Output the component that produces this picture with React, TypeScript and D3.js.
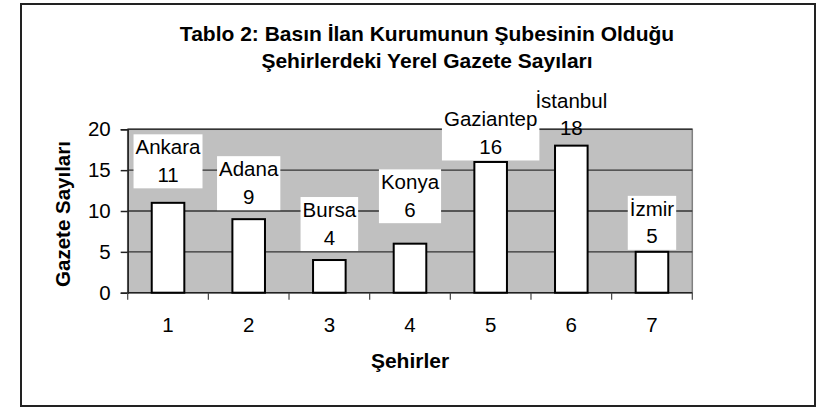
import React, { useEffect, useRef } from 'react'
import * as d3 from 'd3'

// chart data
const cityNumbers = ['1', '2', '3', '4', '5', '6', '7']
const cityNames = ['Ankara', 'Adana', 'Bursa', 'Konya', 'Gaziantep', 'İstanbul', 'İzmir']
const paperCounts = [11, 9, 4, 6, 16, 18, 5]
const yTicks = [0, 5, 10, 15, 20]
const titleLines = [
  'Tablo 2: Basın İlan Kurumunun Şubesinin Olduğu',
  'Şehirlerdeki Yerel Gazete Sayıları',
]
const xTitle = 'Şehirler'
const yTitle = 'Gazete Sayıları'

// hand placed label boxes (px gap above the bar top), as in the original sheet
const labelLift = [14.5, 9, 9, 20.5, 1.5, 4, 2]
const labelFilled = [true, true, true, true, true, false, true]

const W = 818
const H = 408
const FONT = '"Liberation Sans", Arial, sans-serif'

const plot = { left: 127.7, right: 692.3, top: 129.3, bottom: 292.7 }

const App = () => {
  const ref = useRef<SVGSVGElement>(null)

  useEffect(() => {
    const svg = d3.select(ref.current)
    svg.selectAll('*').remove()

    // outer frame
    svg.append('rect')
      .attr('x', 21).attr('y', 4)
      .attr('width', 794).attr('height', 402)
      .attr('fill', '#fff')
      .attr('stroke', '#222')
      .attr('stroke-width', 2)

    const x = d3.scaleBand()
      .domain(cityNumbers)
      .range([plot.left, plot.right])
      .padding(0)

    const y = d3.scaleLinear()
      .domain([0, 20])
      .range([plot.bottom, plot.top])

    // plot area
    svg.append('rect')
      .attr('x', plot.left).attr('y', plot.top)
      .attr('width', plot.right - plot.left)
      .attr('height', plot.bottom - plot.top)
      .attr('fill', '#c0c0c0')
      .attr('stroke', '#808080')
      .attr('stroke-width', 1.5)

    // gridlines
    svg.append('g')
      .selectAll('line')
      .data(yTicks.filter(t => t > 0))
      .enter().append('line')
      .attr('x1', plot.left).attr('x2', plot.right)
      .attr('y1', d => y(d)).attr('y2', d => y(d))
      .attr('stroke', '#333')
      .attr('stroke-width', 1.4)

    // y axis
    const yAxis = svg.append('g')
      .attr('transform', `translate(${plot.left},0)`)
      .call(d3.axisLeft(y).tickValues(yTicks).tickSize(7).tickPadding(10))
    yAxis.selectAll('text')
      .attr('font-family', FONT)
      .attr('font-size', 20.5)
      .attr('fill', '#000')
    yAxis.selectAll('line, path').attr('stroke', '#222').attr('stroke-width', 1.5)

    // x axis: ticks at band edges, labels at band centres
    const xAxis = svg.append('g')
      .attr('transform', `translate(0,${plot.bottom})`)
    xAxis.append('line')
      .attr('x1', plot.left).attr('x2', plot.right)
      .attr('stroke', '#222').attr('stroke-width', 1.5)
    xAxis.selectAll('line.tick')
      .data(d3.range(cityNumbers.length + 1))
      .enter().append('line')
      .attr('class', 'tick')
      .attr('x1', i => plot.left + i * x.bandwidth())
      .attr('x2', i => plot.left + i * x.bandwidth())
      .attr('y1', 0).attr('y2', 7)
      .attr('stroke', '#444').attr('stroke-width', 1.2)
    xAxis.selectAll('text')
      .data(cityNumbers)
      .enter().append('text')
      .attr('x', d => x(d)! + x.bandwidth() / 2)
      .attr('y', 39)
      .attr('text-anchor', 'middle')
      .attr('font-family', FONT)
      .attr('font-size', 20.5)
      .text(d => d)

    // bars
    const barW = x.bandwidth() * 0.404
    svg.append('g')
      .selectAll('rect')
      .data(paperCounts)
      .enter().append('rect')
      .attr('x', (d, i) => x(cityNumbers[i])! + (x.bandwidth() - barW) / 2)
      .attr('y', d => y(d))
      .attr('width', barW)
      .attr('height', d => y(0) - y(d))
      .attr('fill', '#fff')
      .attr('stroke', '#000')
      .attr('stroke-width', 2)

    // data labels: name over value in a white box
    const labels = svg.append('g')
      .selectAll('g')
      .data(paperCounts)
      .enter().append('g')
      .attr('transform', (d, i) => {
        const cx = x(cityNumbers[i])! + x.bandwidth() / 2
        const bottom = y(d) - labelLift[i]
        return `translate(${cx},${bottom - 54})`
      })

    const box = labels.append('rect')
      .attr('y', 0).attr('height', 54)
      .attr('fill', (d, i) => (labelFilled[i] ? '#fff' : 'none'))

    labels.append('text')
      .attr('class', 'name')
      .attr('y', 20)
      .attr('text-anchor', 'middle')
      .attr('font-family', FONT)
      .attr('font-size', 20.5)
      .text((d, i) => cityNames[i])

    labels.append('text')
      .attr('y', 47.5)
      .attr('text-anchor', 'middle')
      .attr('font-family', FONT)
      .attr('font-size', 20.5)
      .text(d => d)

    box.each(function (d, i) {
      const txt = (this.parentNode as SVGGElement).querySelector('text.name') as SVGTextElement
      const w = txt.getComputedTextLength() + 4
      d3.select(this).attr('x', -w / 2).attr('width', w)
    })

    // titles
    svg.append('g')
      .selectAll('text')
      .data(titleLines)
      .enter().append('text')
      .attr('x', 427)
      .attr('y', (d, i) => 41 + i * 27.3)
      .attr('text-anchor', 'middle')
      .attr('font-family', FONT)
      .attr('font-weight', 'bold')
      .attr('font-size', 21)
      .text(d => d)

    svg.append('text')
      .attr('x', (plot.left + plot.right) / 2)
      .attr('y', 368)
      .attr('text-anchor', 'middle')
      .attr('font-family', FONT)
      .attr('font-weight', 'bold')
      .attr('font-size', 21)
      .text(xTitle)

    svg.append('text')
      .attr('transform', `translate(69.5,${(plot.top + plot.bottom) / 2 + 3}) rotate(-90)`)
      .attr('text-anchor', 'middle')
      .attr('font-family', FONT)
      .attr('font-weight', 'bold')
      .attr('font-size', 20.5)
      .text(yTitle)
  }, [])

  return (
    <svg
      ref={ref}
      width={W}
      height={H}
      style={{ display: 'block', position: 'absolute', left: 0, top: 0 }}
    />
  )
}

export default App
